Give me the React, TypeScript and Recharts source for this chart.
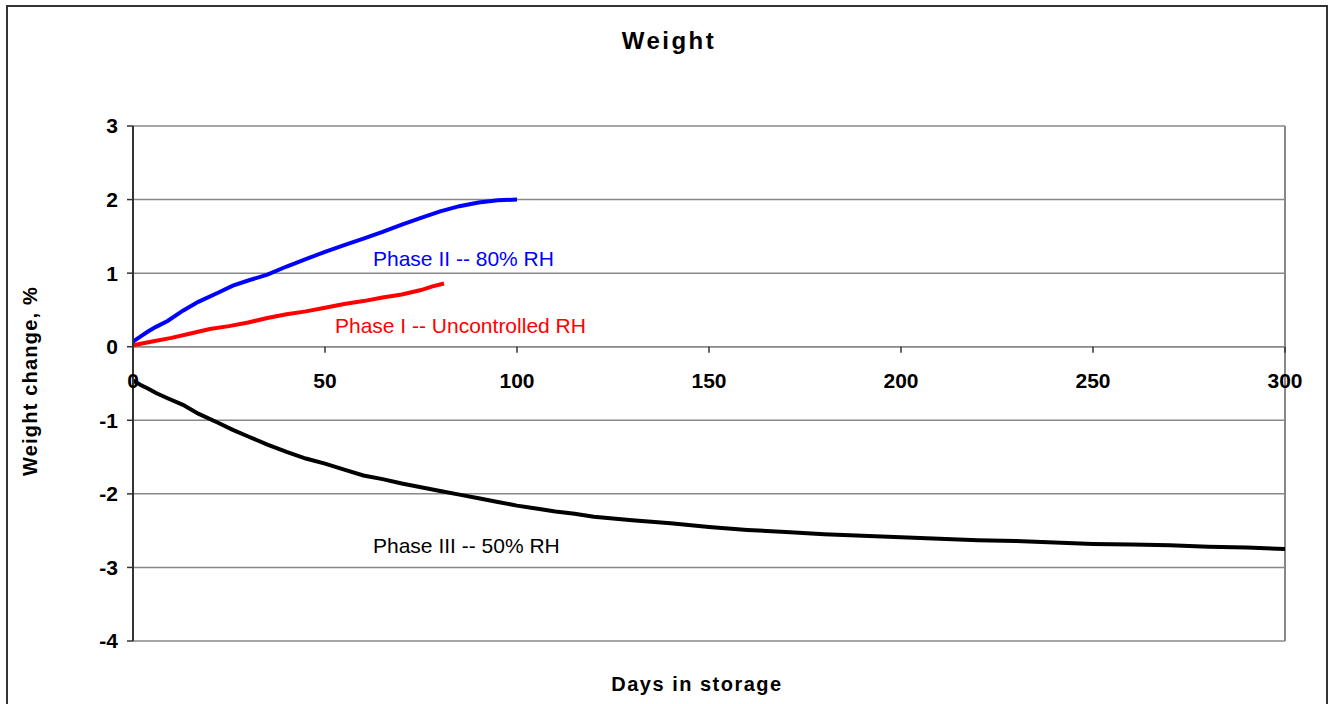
import React from 'react';
import {
  LineChart,
  Line,
  XAxis,
  YAxis,
  CartesianGrid,
  ReferenceLine,
  ReferenceDot
} from 'recharts';

// Days in storage vs weight change (%) for each phase
const phase1Days = [0, 5, 10, 15, 20, 25, 30, 35, 40, 45, 50, 55, 60, 65, 70, 75, 78, 81];
const phase1Values = [0.02, 0.07, 0.12, 0.18, 0.24, 0.28, 0.33, 0.39, 0.44, 0.48, 0.53, 0.58, 0.62, 0.67, 0.71, 0.77, 0.82, 0.86];

const phase2Days = [0, 2, 4, 6, 9, 13, 17, 22, 26, 30, 35, 40, 45, 50, 55, 60, 65, 70, 75, 80, 85, 90, 95, 100];
const phase2Values = [0.07, 0.14, 0.21, 0.27, 0.35, 0.49, 0.61, 0.73, 0.83, 0.9, 0.98, 1.09, 1.19, 1.29, 1.38, 1.47, 1.56, 1.66, 1.75, 1.84, 1.91, 1.96, 1.99, 2.0];

const phase3Days = [0, 2, 4, 6, 9, 13, 17, 22, 26, 30, 35, 40, 45, 50, 55, 60, 65, 70, 75, 80, 85, 90, 95, 100, 105, 110, 115, 120, 130, 140, 150, 160, 170, 180, 190, 200, 210, 220, 230, 240, 250, 260, 270, 280, 290, 300];
const phase3Values = [-0.46, -0.52, -0.57, -0.63, -0.7, -0.79, -0.91, -1.03, -1.13, -1.22, -1.33, -1.43, -1.52, -1.59, -1.67, -1.75, -1.8, -1.86, -1.91, -1.96, -2.01, -2.06, -2.11, -2.16, -2.2, -2.24, -2.27, -2.31, -2.36, -2.4, -2.45, -2.49, -2.52, -2.55, -2.57, -2.59, -2.61, -2.63, -2.64, -2.66, -2.68, -2.69, -2.7, -2.72, -2.73, -2.75];

const xTicks = [0, 50, 100, 150, 200, 250, 300];
const yTicks = [-4, -3, -2, -1, 0, 1, 2, 3];

const notes = [
  { day: 62.5, value: 1.2, text: 'Phase II -- 80% RH', color: '#0000ff' },
  { day: 52.6, value: 0.28, text: 'Phase I -- Uncontrolled RH', color: '#ff0000' },
  { day: 62.5, value: -2.7, text: 'Phase III -- 50% RH', color: '#000000' }
];

const toRows = (days: number[], values: number[]) =>
  days.map((day, i) => ({ day, value: values[i] }));

const phase1 = toRows(phase1Days, phase1Values);
const phase2 = toRows(phase2Days, phase2Values);
const phase3 = toRows(phase3Days, phase3Values);

const FONT = '"Liberation Sans", Arial, sans-serif';
const W = 1334;
const H = 704;
const PLOT_TOP = 126;
const PLOT_BOTTOM = 641;
const PLOT_LEFT = 133;
const PLOT_RIGHT = 1285;
const Y_MIN = -4;
const Y_MAX = 3;
const ZERO_Y = PLOT_TOP + ((Y_MAX - 0) / (Y_MAX - Y_MIN)) * (PLOT_BOTTOM - PLOT_TOP);
const Y_AXIS_W = 60;
const X_AXIS_H = 30;

// x ticks sit on the zero line, not at the bottom of the plot
const ZeroTick = ({ x, payload }: any) => (
  <g>
    <line x1={x} x2={x} y1={ZERO_Y} y2={ZERO_Y + 6} stroke="#333" strokeWidth={1.5} />
    <text x={x} y={ZERO_Y + 41} textAnchor="middle" fontSize={21} fontWeight="bold" fontFamily={FONT} fill="#000">
      {payload.value}
    </text>
  </g>
);

const noteShape = (text: string, color: string) => (props: any) => (
  <text x={props.cx} y={props.cy} dy="0.35em" fill={color} fontSize={21} fontFamily={FONT}>
    {text}
  </text>
);

const App: React.FC = () => {
  return (
    <div style={{ position: 'fixed', left: 0, top: 0, width: W, height: H, background: '#fff', overflow: 'hidden' }}>
      <div
        style={{
          position: 'absolute',
          left: 6,
          top: 5,
          width: 1322,
          height: 740,
          border: '2px solid #333',
          boxSizing: 'border-box'
        }}
      />
      <div style={{ position: 'absolute', left: 0, top: 0 }}>
        <LineChart
          width={W}
          height={H}
          margin={{
            top: PLOT_TOP,
            right: W - PLOT_RIGHT,
            bottom: H - PLOT_BOTTOM - X_AXIS_H,
            left: PLOT_LEFT - Y_AXIS_W
          }}
        >
          <CartesianGrid vertical={false} stroke="#888" strokeWidth={1.5} />
          <XAxis
            type="number"
            dataKey="day"
            domain={[0, 300]}
            ticks={xTicks}
            axisLine={false}
            tickLine={false}
            height={X_AXIS_H}
            tick={<ZeroTick />}
            allowDuplicatedCategory={false}
          />
          <YAxis
            type="number"
            domain={[Y_MIN, Y_MAX]}
            ticks={yTicks}
            width={Y_AXIS_W}
            axisLine={{ stroke: '#333', strokeWidth: 2 }}
            tickLine={{ stroke: '#333', strokeWidth: 1.5 }}
            tickSize={6}
            tickMargin={9}
            tick={{ fontSize: 21, fontWeight: 'bold', fill: '#000', fontFamily: FONT }}
          />
          <ReferenceLine x={300} stroke="#888" strokeWidth={2} />
          <ReferenceLine y={0} stroke="#888" strokeWidth={1.5} />
          <Line data={phase3} dataKey="value" type="linear" stroke="#000" strokeWidth={4} dot={false} isAnimationActive={false} />
          <Line data={phase1} dataKey="value" type="linear" stroke="#ff0000" strokeWidth={4} dot={false} isAnimationActive={false} />
          <Line data={phase2} dataKey="value" type="linear" stroke="#0000ff" strokeWidth={4} dot={false} isAnimationActive={false} />
          {notes.map((n) => (
            <ReferenceDot key={n.text} x={n.day} y={n.value} r={0} shape={noteShape(n.text, n.color)} />
          ))}
        </LineChart>
      </div>
      <svg width={W} height={H} style={{ position: 'absolute', left: 0, top: 0, pointerEvents: 'none' }}>
        <text x={669} y={49} textAnchor="middle" fontSize={24} fontWeight="bold" fontFamily={FONT} letterSpacing={2.5}>
          Weight
        </text>
        <text
          transform="translate(37,381) rotate(-90)"
          textAnchor="middle"
          fontSize={20}
          fontWeight="bold"
          fontFamily={FONT}
          letterSpacing={1.2}
        >
          Weight change, %
        </text>
        <text x={697} y={691} textAnchor="middle" fontSize={20} fontWeight="bold" fontFamily={FONT} letterSpacing={1.5}>
          Days in storage
        </text>
      </svg>
    </div>
  );
};

export default App;
